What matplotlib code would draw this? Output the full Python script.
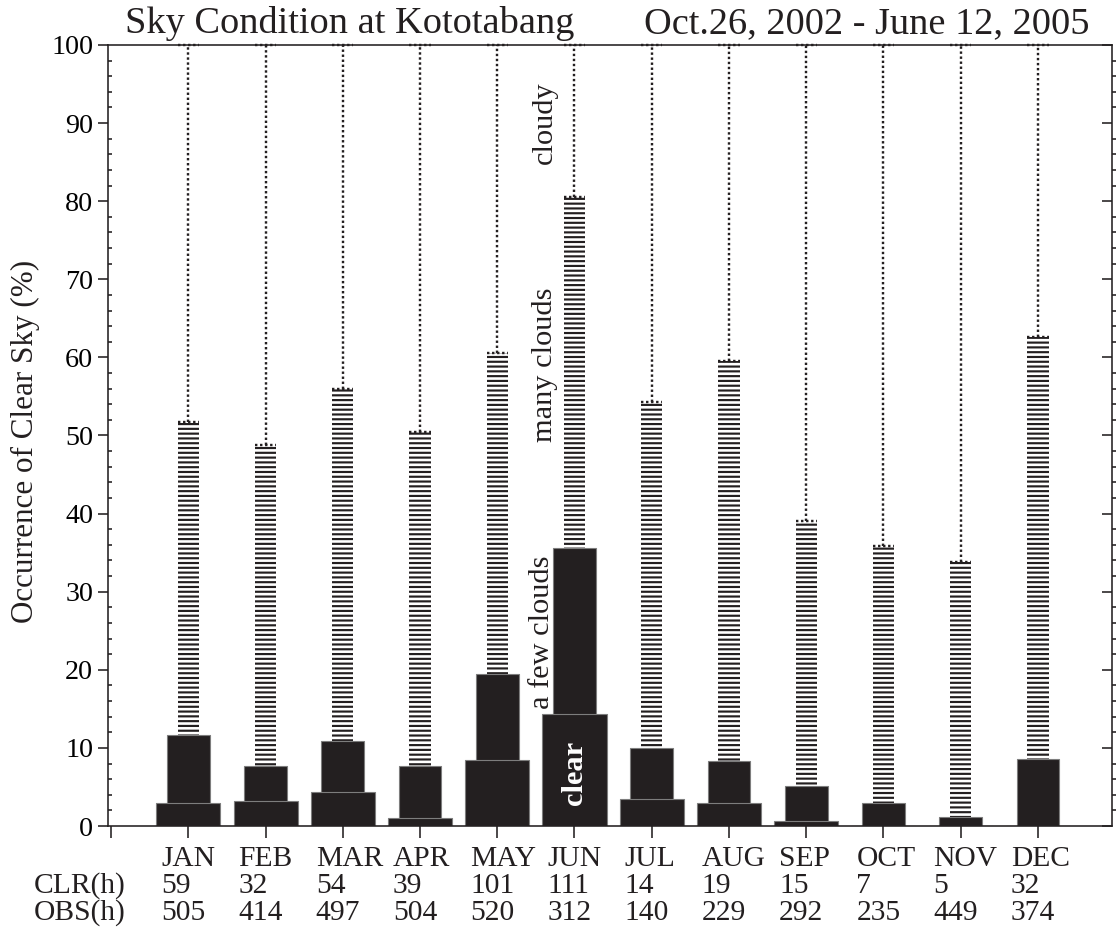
import numpy as np
import matplotlib
matplotlib.use("Agg")
import matplotlib.pyplot as plt
from matplotlib.ticker import MultipleLocator, NullFormatter
from matplotlib import transforms

# Monthly sky-condition statistics at Kototabang
months = ["JAN", "FEB", "MAR", "APR", "MAY", "JUN",
          "JUL", "AUG", "SEP", "OCT", "NOV", "DEC"]
clr_hours = [59, 32, 54, 39, 101, 111, 14, 19, 15, 7, 5, 32]
obs_hours = [505, 414, 497, 504, 520, 312, 140, 229, 292, 235, 449, 374]

# cumulative occurrence (%) for each sky class
clear_pct = [2.9, 3.15, 4.4, 1.0, 8.4, 14.4, 3.5, 3.0, 0.7, 0.0, 0.0, 0.0]
few_clouds_pct = [11.7, 7.7, 10.9, 7.7, 19.4, 35.6, 10.0, 8.3, 5.1, 3.0, 1.1, 8.6]
many_clouds_pct = [51.7, 48.8, 56.0, 50.4, 60.5, 80.5, 54.3, 59.5, 39.1, 35.8, 33.8, 62.6]
cloudy_pct = [100, 100, 100, 100, 100, 100, 100, 100, 100, 100, 100, 100]

INK = "#231f20"
EDGE = "#7d7d7d"
DPI = 115
W_PX, H_PX = 1116, 929

plt.rcParams["font.family"] = ["Liberation Serif", "DejaVu Serif"]
plt.rcParams["hatch.color"] = INK
plt.rcParams["hatch.linewidth"] = 1.35
plt.rcParams["text.color"] = INK

fig = plt.figure(figsize=(W_PX / DPI, H_PX / DPI), dpi=DPI)
ax = fig.add_axes([108 / W_PX, 1 - 826 / H_PX, 1004 / W_PX, 781 / H_PX])

x = np.arange(1, len(months) + 1)
w_wide, w_mid, w_narrow = 0.83, 0.553, 0.276
dots = (0, (1.0, 1.1))

# cloudy: dotted stem from the top of the hatched bar up to 100 %
ax.vlines(x, many_clouds_pct, cloudy_pct, colors=INK, linestyles=dots,
          linewidth=1.5, zorder=1)
ax.hlines(many_clouds_pct, x - w_narrow / 2, x + w_narrow / 2, colors=INK,
          linestyles=dots, linewidth=1.5, zorder=1.5)
ax.hlines(cloudy_pct, x - w_narrow / 2, x + w_narrow / 2, colors=INK,
          linestyles=dots, linewidth=1.5, zorder=3, clip_on=False)

# many clouds: narrow striped bars
ax.bar(x, many_clouds_pct, width=w_narrow, color="white", edgecolor=INK,
       linewidth=0, hatch="----", zorder=1.2)
# a few clouds: medium bars
ax.bar(x, few_clouds_pct, width=w_mid, color=INK, edgecolor=EDGE,
       linewidth=0.7, zorder=1.4)
# clear: wide bars
ax.bar(x, clear_pct, width=w_wide, color=INK, edgecolor=EDGE,
       linewidth=0.7, zorder=1.6)

ax.set_xlim(-0.04, 12.96)
ax.set_ylim(0, 100)

for s in ax.spines.values():
    s.set_linewidth(1.0)
    s.set_color(INK)

# x ticks
ax.set_xticks(np.arange(0, 13))
ax.xaxis.set_major_formatter(NullFormatter())
ax.tick_params(axis="x", which="major", direction="out", length=7.5,
               width=1.0, color=INK, top=False)

# y ticks (left: labelled, major out / minor in)
ax.yaxis.set_major_locator(MultipleLocator(10))
ax.yaxis.set_minor_locator(MultipleLocator(2))
ax.tick_params(axis="y", which="major", direction="out", length=6.3,
               width=1.0, color=INK, labelsize=17.5, pad=3, right=False)
ax.tick_params(axis="y", which="minor", direction="in", length=2.8,
               width=1.0, color=INK, right=False)

# right-hand tick marks
ax2 = ax.twinx()
ax2.set_ylim(0, 100)
ax2.yaxis.set_major_locator(MultipleLocator(10))
ax2.yaxis.set_minor_locator(MultipleLocator(2))
ax2.tick_params(axis="y", which="major", direction="in", length=6.3,
                width=1.0, color=INK, labelright=False)
ax2.tick_params(axis="y", which="minor", direction="out", length=2.8,
                width=1.0, color=INK)
for s in ax2.spines.values():
    s.set_visible(False)

fig.text(25 / W_PX, 1 - 441 / H_PX, "Occurrence of Clear Sky (%)",
         rotation=90, ha="center", va="center", fontsize=19.5)

# class labels
lab_fs = 19
ax.text(5.62, 90, "cloudy", rotation=90, ha="center", va="center", fontsize=lab_fs)
ax.text(5.62, 59, "many clouds", rotation=90, ha="center", va="center", fontsize=lab_fs)
ax.text(5.58, 24.8, "a few clouds", rotation=90, ha="center", va="center", fontsize=lab_fs)
ax.text(6.0, 6.8, "clear", rotation=90, ha="center", va="center", fontsize=lab_fs,
        color="white", fontweight="bold")

# titles
fig.text(125 / W_PX, 1 - 33 / H_PX, "Sky Condition at Kototabang",
         ha="left", va="baseline", fontsize=24)
fig.text(1090 / W_PX, 1 - 33 / H_PX, "Oct.26, 2002 - June 12, 2005",
         ha="right", va="baseline", fontsize=24)

# month names and hour counts below the axis
tr = transforms.blended_transform_factory(ax.transData, fig.transFigure)
row_y = [1 - 866 / H_PX, 1 - 893 / H_PX, 1 - 920 / H_PX]
row_fs = 18.5
for xi, m, c, o in zip(x, months, clr_hours, obs_hours):
    ax.text(xi - 0.35, row_y[0], m, transform=tr, ha="left", va="baseline", fontsize=row_fs)
    ax.text(xi - 0.35, row_y[1], str(c), transform=tr, ha="left", va="baseline", fontsize=row_fs)
    ax.text(xi - 0.35, row_y[2], str(o), transform=tr, ha="left", va="baseline", fontsize=row_fs)
fig.text(34 / W_PX, row_y[1], "CLR(h)", ha="left", va="baseline", fontsize=row_fs)
fig.text(34 / W_PX, row_y[2], "OBS(h)", ha="left", va="baseline", fontsize=row_fs)

fig.savefig("out.png", dpi=DPI)
